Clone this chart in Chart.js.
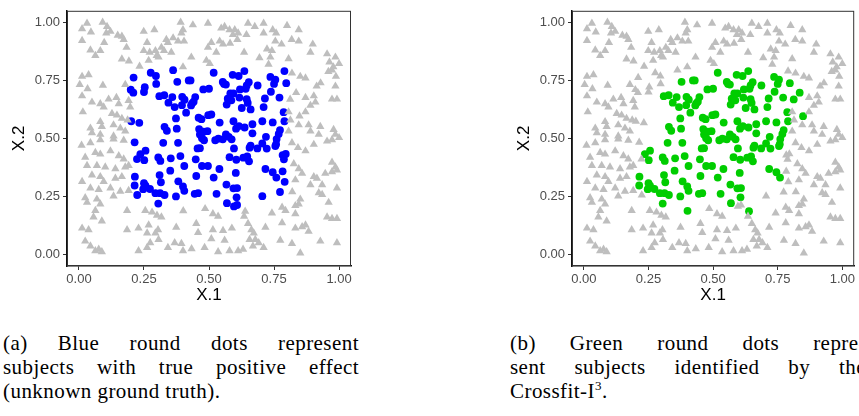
<!DOCTYPE html>
<html>
<head>
<meta charset="utf-8">
<script src="https://cdn.jsdelivr.net/npm/chart.js@4.4.0/dist/chart.umd.min.js"></script>
<style>
  html, body { margin: 0; padding: 0; background: #fff; width: 859px; height: 416px; overflow: hidden; }
  canvas { position: absolute; top: 0; }
  #panelA { left: 0; }
  #panelB { left: 505px; }
  .cap { position: absolute; top: 331px; width: 356px; font-family: "Liberation Serif", serif; font-size: 21px; line-height: 24px; letter-spacing: 0.45px; color: #000; }
  .cap .j { text-align: justify; text-align-last: justify; }
  #capA { left: 3px; }
  #capB { left: 510px; }
</style>
</head>
<body>
<canvas id="panelA" width="360" height="306"></canvas>
<canvas id="panelB" width="354" height="306"></canvas>
<div class="cap" id="capA">
  <div class="j">(a) Blue round dots represent</div>
  <div class="j">subjects with true positive effect</div>
  <div>(unknown ground truth).</div>
</div>
<div class="cap" id="capB">
  <div class="j">(b) Green round dots repre-</div>
  <div class="j">sent subjects identified by the</div>
  <div>Crossfit-I<sup style="font-size:13px;line-height:0">3</sup>.</div>
</div>
<script>
// subjects that are gray in both panels
const background = [
  [.031,.996],[.012,.972],[.046,.958],[.091,1.0],[.108,.982],[.105,.954],[.121,.961],[.149,.944],[.165,.940],[.172,.926],
  [.097,.913],[.012,.922],[.044,.881],[.063,.857],[.082,.878],[.165,.842],[.249,.961],[.290,.968],[.262,.913],[.249,.878],
  [.272,.871],[.294,.878],[.306,.850],[.268,.836],[.233,.811],[.012,.767],[.037,.774],[.003,.732],[.092,.729],[.178,.732],
  [.012,.683],[.050,.656],[.082,.649],[.114,.669],[.144,.676],[.153,.649],[.191,.663],[.197,.635],[.015,.614],[.095,.635],
  [.127,.607],[.146,.600],[.165,.586],[.187,.579],[.133,.558],[.082,.572],[.088,.551],[.159,.544],[.178,.531],[.044,.544],
  [.050,.524],[.082,.517],[.133,.510],[.033,.714],[.183,.892],[.192,.833],
  [.391,1.0],[.438,.989],[.400,.968],[.394,.954],[.362,.933],[.336,.926],[.342,.913],[.381,.919],[.404,.919],[.317,.892],
  [.327,.878],[.355,.871],[.432,.850],[.400,.808],[.490,.836],[.503,.822],[.496,.892],[.509,.913],[.541,.919],[.554,.906],
  [.528,.871],[.547,.975],[.560,.982],[.579,.968],[.599,.968],[.592,.947],[.612,.954],[.650,.996],[.644,.947],[.676,.982],
  [.635,.871],[.496,.996],[.581,.910],[.609,.926],[.299,.857],
  [.710,.996],[.710,.954],[.745,.968],[.758,.954],[.755,.919],[.723,.885],[.742,.878],[.694,.847],[.736,.850],[.729,.819],
  [.800,.986],[.845,.968],[.806,.843],[.845,.919],[.899,.906],[.890,.871],[.954,.864],[.986,.850],[1.0,.822],[.963,.829],
  [.973,.794],[.988,.767],[.986,.725],[.819,.781],[.851,.767],[.871,.760],[.871,.676],[.903,.683],[.909,.656],[.890,.642],
  [.973,.669],[.992,.669],[.871,.614],[.806,.614],[.813,.579],[.845,.558],[.806,.531],[.883,.558],[.928,.551],[.890,.531],
  [.922,.517],[.979,.538],[.986,.517],[1.0,.503],[.978,.808],[.959,.788],[.779,.906],[.818,.926],[.929,.739],[.914,.725],
  [.044,.481],[.082,.494],[.133,.497],[.172,.492],[.024,.418],[.063,.439],[.082,.432],[.121,.446],[.153,.425],[.172,.411],
  [.191,.383],[.031,.383],[.069,.383],[.101,.376],[.140,.369],[.178,.376],[.012,.314],[.050,.342],[.082,.335],[.095,.314],
  [.140,.328],[.165,.335],[.044,.286],[.076,.279],[.121,.286],[.159,.272],[.191,.275],[.024,.244],[.031,.224],[.069,.238],
  [.082,.217],[.133,.251],[.185,.189],[.063,.189],[.056,.161],[.088,.144],[.012,.113],[.037,.106],[.185,.106],[.024,.057],
  [.044,.036],[.076,.022],[.063,.015],[.088,.011],[.229,.015],[.262,.029],[.274,.050],[.294,.092],[.306,.064],[.262,.092],
  [.229,.113],[.268,.126],[.255,.189],[.281,.182],[.300,.168],[.010,.470],
  [.317,.161],[.374,.117],[.451,.133],[.458,.094],[.515,.175],[.535,.164],[.515,.106],[.554,.103],[.588,.113],[.509,.067],
  [.560,.061],[.483,.029],[.535,.011],[.579,.015],[.612,.015],[.631,.022],[.342,.029],[.368,.050],[.394,.047],[.400,.015],
  [.304,.106],[.635,.164],[.650,.133],[.663,.106],[.656,.064],[.669,.036],[.433,.024],[.485,.197],
  [.819,.481],[.842,.460],[.871,.446],[.903,.474],[.954,.488],[.973,.494],[.826,.390],[.845,.369],[.858,.349],[.832,.321],
  [.903,.335],[.915,.328],[.890,.300],[.935,.300],[.947,.349],[.973,.356],[.992,.363],[.973,.397],[.986,.376],[.922,.265],
  [.935,.258],[.992,.286],[.960,.224],[.851,.238],[.845,.217],[.832,.210],[.794,.189],[.781,.203],[.742,.178],[.832,.175],
  [.954,.161],[.973,.154],[.992,.154],[.781,.136],[.717,.117],[.832,.113],[.858,.119],[.871,.126],[.883,.099],[.672,.092],
  [.678,.064],[.691,.050],[.710,.029],[.774,.061],[.819,.047],[.928,.057],[.992,.050],[.851,.006],[.820,.270]
];

// true positive effect and identified (blue in a, green in b)
const truePosFound = [
  [.518,.783],[.636,.790],[.591,.774],[.614,.769],[.736,.765],[.422,.750],[.429,.750],[.378,.744],[.553,.743],[.558,.735],
  [.565,.732],[.653,.742],[.645,.728],[.687,.728],[.755,.753],[.750,.735],[.797,.738],[.641,.714],[.619,.711],[.594,.694],
  [.478,.711],[.500,.714],[.738,.701],[.309,.682],[.328,.686],[.359,.678],[.397,.679],[.406,.667],[.447,.678],[.441,.658],
  [.396,.643],[.344,.654],[.368,.635],[.431,.642],[.435,.651],[.582,.694],[.572,.671],[.586,.664],[.617,.676],[.645,.669],
  [.649,.653],[.568,.646],[.626,.631],[.660,.625],[.715,.672],[.771,.676],[.710,.635],[.412,.611],[.787,.613],[.373,.586],
  [.460,.589],[.471,.583],[.497,.600],[.509,.603],[.594,.574],[.637,.547],[.667,.561],[.705,.574],[.745,.569],[.790,.574],
  [.541,.568],[.462,.540],[.479,.529],[.329,.550],[.338,.533],[.376,.542],[.615,.553],[.604,.542],[.324,.481],[.381,.481],
  [.465,.517],[.473,.501],[.481,.492],[.494,.531],[.667,.522],[.565,.517],[.576,.507],[.587,.496],[.553,.496],[.524,.492],
  [.536,.499],[.719,.507],[.773,.536],[.768,.519],[.760,.497],[.705,.478],[.660,.469],[.656,.460],[.758,.475],[.755,.467],
  [.456,.457],[.465,.458],[.596,.457],[.686,.457],[.722,.456],[.256,.447],[.236,.432],[.251,.406],[.305,.418],[.313,.403],
  [.353,.414],[.390,.424],[.449,.410],[.405,.381],[.473,.381],[.496,.381],[.579,.419],[.605,.408],[.632,.417],[.647,.422],
  [.654,.401],[.351,.361],[.540,.368],[.603,.351],[.717,.368],[.745,.354],[.759,.331],[.310,.342],[.451,.338],[.518,.331],
  [.215,.335],[.315,.311],[.214,.297],[.250,.307],[.256,.296],[.382,.315],[.567,.301],[.594,.285],[.608,.286],[.400,.293],
  [.405,.274],[.247,.281],[.273,.282],[.294,.264],[.312,.264],[.329,.256],[.373,.250],[.445,.261],[.458,.264],[.529,.261],
  [.606,.246],[.305,.219],[.569,.221]
];

// true positive effect but not identified (blue in a, gray in b)
const truePosMissed = [
  [.362,.794],[.276,.783],[.296,.769],[.210,.762],[.790,.790],[.297,.735],[.199,.710],[.209,.697],[.253,.721],[.250,.700],
  [.201,.574],[.232,.567],[.214,.483],[.795,.433],[.223,.411],[.788,.410],[.783,.428],[.783,.358],[.791,.313],[.224,.256],
  [.705,.251],[.773,.269],[.596,.207],[.608,.213]
];

// identified without true effect (gray in a, green in b)
const falsePos = [
  [.835,.697],[.848,.596],[.812,.668],[.639,.186],[.401,.188]
];

const tickVals = [0, 0.25, 0.5, 0.75, 1];

const toXY = arr => arr.map(p => ({x: p[0], y: p[1]}));

const frame = {
  id: 'frame',
  afterDatasetsDraw(chart) {
    const {ctx, chartArea: a} = chart;
    ctx.save();
    ctx.strokeStyle = '#333333';
    ctx.lineWidth = 1;
    ctx.strokeRect(a.left + 0.5, a.top + 0.5, a.width - 1, a.height - 1);
    ctx.restore();
  }
};

function makePanel(id, gray, colored, color, padRight) {
  const tickFont = {family: '"Liberation Sans", Arial, sans-serif', size: 13};
  const titleFont = {family: '"Liberation Sans", Arial, sans-serif', size: 17, lineHeight: 1.2};
  return new Chart(document.getElementById(id), {
    type: 'scatter',
    data: {
      datasets: [
        {
          data: toXY(gray),
          pointStyle: 'triangle',
          pointRadius: 4.8,
          pointHoverRadius: 4.8,
          backgroundColor: '#BEBEBE',
          borderWidth: 0
        },
        {
          data: toXY(colored),
          pointStyle: 'circle',
          pointRadius: 3.9,
          pointHoverRadius: 3.9,
          backgroundColor: color,
          borderWidth: 0
        }
      ]
    },
    options: {
      responsive: false,
      animation: false,
      devicePixelRatio: 1,
      events: [],
      layout: {padding: {top: 2, right: padRight, left: 0, bottom: 0}},
      plugins: {
        legend: {display: false},
        tooltip: {enabled: false}
      },
      scales: {
        x: {
          type: 'linear',
          min: -0.046,
          max: 1.046,
          afterFit: (s) => { s.height = 40; },
          afterBuildTicks: (s) => { s.ticks = tickVals.map(v => ({value: v})); },
          ticks: {
            callback: v => v.toFixed(2),
            color: '#4D4D4D',
            font: tickFont,
            padding: 2,
            maxRotation: 0,
            autoSkip: false
          },
          grid: {drawOnChartArea: false, drawTicks: true, tickLength: 4, color: '#333333'},
          border: {display: true, color: '#111111', width: 1.5},
          title: {display: true, text: 'X.1', color: '#000', font: titleFont, padding: {top: 0, bottom: 0}}
        },
        y: {
          type: 'linear',
          min: -0.05,
          max: 1.05,
          afterFit: (s) => { s.width = 67; },
          afterBuildTicks: (s) => { s.ticks = tickVals.map(v => ({value: v})); },
          ticks: {
            callback: v => v.toFixed(2),
            color: '#4D4D4D',
            font: tickFont,
            padding: 3,
            autoSkip: false
          },
          grid: {drawOnChartArea: false, drawTicks: true, tickLength: 4, color: '#333333'},
          border: {display: true, color: '#111111', width: 1.5},
          title: {display: true, text: 'X.2', color: '#000', font: titleFont, padding: {top: 9, bottom: 0}}
        }
      }
    },
    plugins: [frame]
  });
}

makePanel('panelA', background.concat(falsePos), truePosFound.concat(truePosMissed), '#0000FF', 9);
makePanel('panelB', background.concat(truePosMissed), truePosFound.concat(falsePos), '#00CD00', 3);
</script>
</body>
</html>
